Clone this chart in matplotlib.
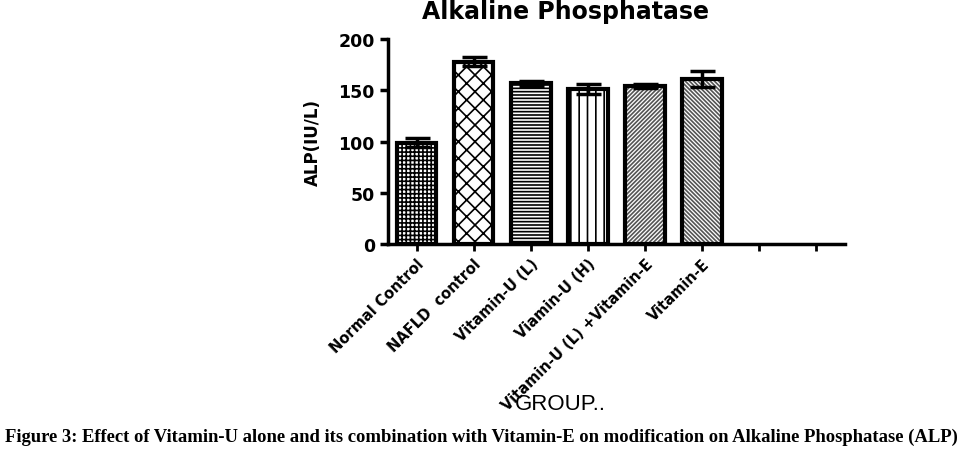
import matplotlib
matplotlib.use("Agg")
import matplotlib.pyplot as plt
import numpy as np

groups = ["Normal Control", "NAFLD  control", "Vitamin-U (L)", "Viamin-U (H)",
          "Vitamin-U (L) +Vitamin-E", "Vitamin-E", "", ""]
values = [99, 178, 157, 151, 154, 161]
errors = [4.5, 4.5, 2.5, 5, 2, 8]
hatches = ["++++", "xx", "-----", "||", "////////", "\\\\\\\\\\\\\\\\"]
hatch_colors = ["black", "black", "black", "black", "#555555", "#555555"]

plt.rcParams['font.family'] = ['DejaVu Sans']
plt.rcParams['hatch.linewidth'] = 1.2

fig = plt.figure(figsize=(9.73, 4.52), dpi=100)
ax = fig.add_axes([388/973, 1-245/452, (845-388)/973, (245-40)/452])

x = np.arange(len(values))
for i, (v, e, h, hc) in enumerate(zip(values, errors, hatches, hatch_colors)):
    ax.bar(x[i], v, width=0.69, facecolor='white', edgecolor=hc,
           linewidth=0, hatch=h, zorder=2)
    ax.bar(x[i], v, width=0.69, facecolor='none', edgecolor='black',
           linewidth=3, zorder=2.5)
    ax.errorbar(x[i], v, yerr=e, color='black', elinewidth=2.5, capsize=9,
                capthick=2.5, zorder=3)

ax.set_xlim(-0.5, 7.5)
ax.set_ylim(0, 200)
ax.set_yticks([0, 50, 100, 150, 200])
ax.set_xticks(np.arange(len(groups)))
ax.set_xticklabels(groups, rotation=45, ha='right', rotation_mode='anchor',
                   fontsize=10.5, fontweight='bold')
for lab in ax.get_yticklabels():
    lab.set_fontsize(12.5)
    lab.set_fontweight('bold')
for s in ['top', 'right']:
    ax.spines[s].set_visible(False)
for s in ['left', 'bottom']:
    ax.spines[s].set_linewidth(2.5)
ax.tick_params(axis='y', width=2.5, length=6)
ax.tick_params(axis='x', width=2, length=5)

fig.text(565/973, 1-12/452, "Alkaline Phosphatase", ha='center', va='center',
         fontsize=17, fontweight='bold')
fig.text(313/973, 1-143/452, "ALP(IU/L)", ha='center', va='center',
         rotation=90, fontsize=12, fontweight='bold')
fig.text(560/973, 1-405/452, "GROUP..", ha='center', va='center', fontsize=16,
         family=['Liberation Sans', 'DejaVu Sans'])
fig.text(5/973, 1-437/452,
         "Figure 3: Effect of Vitamin-U alone and its combination with Vitamin-E on modification on Alkaline Phosphatase (ALP)",
         ha='left', va='center', fontsize=13.4, fontweight='bold',
         family=['Liberation Serif', 'DejaVu Serif'])

fig.savefig("out.png", dpi=100)
